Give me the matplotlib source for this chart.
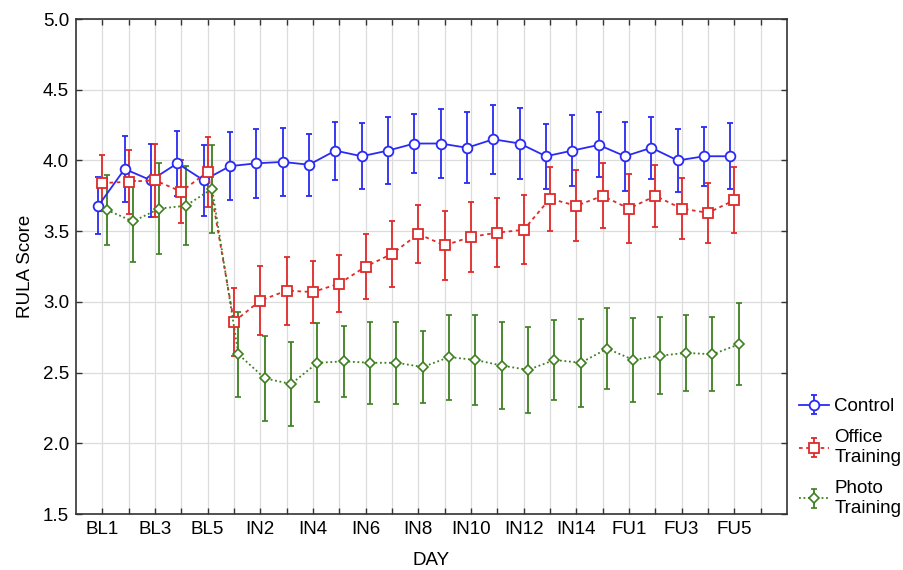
import numpy as np
import matplotlib
matplotlib.use("Agg")
import matplotlib.pyplot as plt

plt.rcParams['font.family'] = ['Liberation Sans', 'DejaVu Sans']

days = ([f"BL{i}" for i in range(1, 6)] + [f"IN{i}" for i in range(1, 16)]
        + [f"FU{i}" for i in range(1, 6)])

control = [3.68, 3.94, 3.86, 3.98, 3.86, 3.96, 3.98, 3.99, 3.97, 4.07, 4.03, 4.07, 4.12,
           4.12, 4.09, 4.15, 4.12, 4.03, 4.07, 4.11, 4.03, 4.09, 4.00, 4.03, 4.03]
control_err = [0.20, 0.23, 0.26, 0.23, 0.25, 0.24, 0.245, 0.24, 0.22, 0.205, 0.235, 0.235,
               0.207, 0.245, 0.25, 0.245, 0.25, 0.23, 0.25, 0.23, 0.245, 0.22, 0.22, 0.21, 0.235]

office = [3.84, 3.85, 3.86, 3.78, 3.92, 2.86, 3.01, 3.08, 3.07, 3.13, 3.25, 3.34, 3.48,
          3.40, 3.46, 3.49, 3.51, 3.73, 3.68, 3.75, 3.66, 3.75, 3.66, 3.63, 3.72]
office_err = [0.20, 0.225, 0.26, 0.225, 0.248, 0.24, 0.245, 0.24, 0.22, 0.20, 0.23, 0.233,
              0.207, 0.243, 0.25, 0.245, 0.245, 0.227, 0.25, 0.23, 0.243, 0.22, 0.213, 0.21, 0.233]

photo = [3.65, 3.57, 3.66, 3.68, 3.80, 2.63, 2.46, 2.42, 2.57, 2.58, 2.57, 2.57, 2.54,
         2.61, 2.59, 2.55, 2.52, 2.59, 2.57, 2.67, 2.59, 2.62, 2.64, 2.63, 2.70]
photo_err = [0.25, 0.285, 0.32, 0.28, 0.31, 0.30, 0.30, 0.30, 0.28, 0.25, 0.29, 0.29,
             0.257, 0.30, 0.315, 0.305, 0.306, 0.28, 0.313, 0.284, 0.30, 0.272, 0.267, 0.263, 0.29]

x = np.arange(len(days))

fig = plt.figure(figsize=(9.04, 5.70), dpi=100)
ax = fig.add_axes([0.084, 0.098, 0.7866, 0.8686])

blue = '#2a2af5'
red = '#e02a2a'
green = '#3d7f1f'

ax.errorbar(x - 0.15, control, yerr=control_err, color=blue, lw=1.3, ls='-',
            marker='o', ms=7, mfc='white', mec=blue, mew=1.3, capsize=2.5, elinewidth=1.3,
            label='Control', zorder=3)
ax.errorbar(x, office, yerr=office_err, color=red, lw=1.3, ls=(0, (2, 2)),
            marker='s', ms=6.5, mfc='white', mec=red, mew=1.3, capsize=2.5, elinewidth=1.3,
            label='Office\nTraining', zorder=3)
ax.errorbar(x + 0.17, photo, yerr=photo_err, color=green, lw=1.3, ls=(0, (1, 1.5)),
            marker='D', ms=5.5, mfc='white', mec=green, mew=1.2, capsize=2, elinewidth=1.3,
            label='Photo\nTraining', zorder=3)

ax.set_xlim(-1, 26)
ax.set_ylim(1.5, 5.0)
ax.set_xticks(np.arange(0, 26))
ax.set_xticklabels([days[i] if (i < len(days) and i % 2 == 0) else '' for i in range(26)])
ax.set_yticks(np.arange(1.5, 5.01, 0.5))
ax.set_yticklabels([f"{v:.1f}" for v in np.arange(1.5, 5.01, 0.5)])
ax.tick_params(direction='in', top=True, right=True, length=4, width=1,
               labelsize=13.5, colors='#333333', pad=5)
ax.tick_params(axis='both', labelcolor='black')
ax.grid(True, color='#dcdcdc', lw=0.9)
ax.set_axisbelow(True)
for s in ax.spines.values():
    s.set_color('#333333')
    s.set_linewidth(1.2)

ax.set_xlabel('DAY', fontsize=13.5, labelpad=10)
ax.set_ylabel('RULA Score', fontsize=13.5, labelpad=6)

leg = ax.legend(loc='lower left', bbox_to_anchor=(1.006, -0.02), frameon=False,
                fontsize=13.5, handlelength=1.6, handletextpad=0.3, labelspacing=0.75,
                borderaxespad=0)

fig.savefig('out.png', dpi=100)
